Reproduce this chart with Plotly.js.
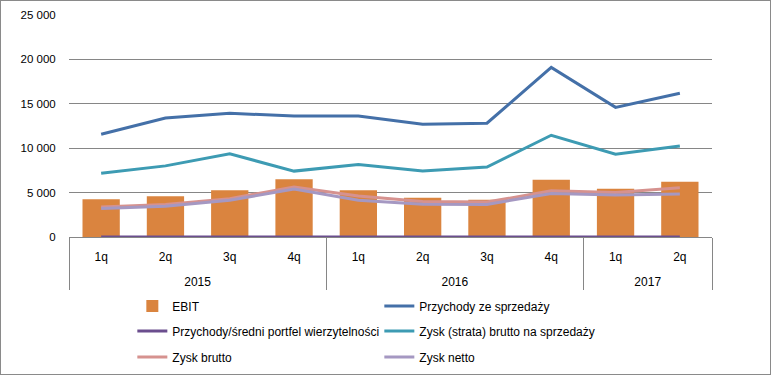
<!DOCTYPE html>
<html>
<head>
<meta charset="utf-8">
<script src="https://cdn.plot.ly/plotly-3.0.1.min.js"></script>
<style>
  html, body { margin: 0; padding: 0; background: #fff; }
  #wrap { position: relative; width: 771px; height: 375px; }
  #chart { position: absolute; left: 0; top: 0; width: 771px; height: 375px; }
  #frame { position: absolute; left: 0; top: 0; width: 771px; height: 375px; box-sizing: border-box; border: 1px solid #8a8a8a; pointer-events: none; }
</style>
</head>
<body>
<div id="wrap"><div id="chart"></div><div id="frame"></div></div>
<script>
const years = ["2015","2015","2015","2015","2016","2016","2016","2016","2017","2017"];
const quarters = ["1q","2q","3q","4q","1q","2q","3q","4q","1q","2q"];

const ebit = [4245, 4580, 5260, 6500, 5260, 4420, 4200, 6450, 5440, 6230];
const przychody = [11570, 13400, 13930, 13630, 13630, 12700, 12810, 19100, 14600, 16180];
const przychodyPortfel = [0.3, 0.3, 0.3, 0.3, 0.3, 0.3, 0.3, 0.3, 0.3, 0.3];
const zyskSprzedazy = [7190, 8010, 9360, 7420, 8160, 7420, 7870, 11460, 9330, 10260];
const zyskBrutto = [3380, 3650, 4320, 5630, 4620, 4000, 3930, 5200, 5000, 5560];
const zyskNetto = [3200, 3460, 4130, 5400, 4130, 3700, 3670, 4900, 4730, 4840];

const yTicks = [0, 5000, 10000, 15000, 20000, 25000];

// padding spans only enlarge the label box so the year row sits lower
const pad = "<span style='font-size:29px'>\u00a0</span>";
const quarterLabels = quarters.map(q => pad + q + pad);
const x = [years, quarterLabels];
const lw = 3;

const traces = [
  { type: "bar", name: "EBIT", x: x, y: ebit, marker: { color: "#da843f" }, legend: "legend" },
  { type: "scatter", mode: "lines", name: "Przychody ze sprzedaży", x: x, y: przychody, line: { color: "#4470a8", width: lw }, legend: "legend" },
  { type: "scatter", mode: "lines", name: "Przychody/średni portfel wierzytelności", x: x, y: przychodyPortfel, line: { color: "#6b4e8e", width: lw }, legend: "legend2" },
  { type: "scatter", mode: "lines", name: "Zysk (strata) brutto na sprzedaży", x: x, y: zyskSprzedazy, line: { color: "#3d9bb3", width: lw }, legend: "legend2" },
  { type: "scatter", mode: "lines", name: "Zysk brutto", x: x, y: zyskBrutto, line: { color: "#d6928f", width: lw }, legend: "legend3" },
  { type: "scatter", mode: "lines", name: "Zysk netto", x: x, y: zyskNetto, line: { color: "#a598c2", width: lw }, legend: "legend3" }
];

const font = { family: "Liberation Sans, Arial, sans-serif", size: 12, color: "#000" };

function legendAt(yPix) {
  return {
    orientation: "h",
    xref: "paper", x: 0.0985, xanchor: "left",
    yref: "container", y: 1 - yPix / 375, yanchor: "middle",
    entrywidth: 202, entrywidthmode: "pixels",
    traceorder: "normal",
    font: font,
    bgcolor: "rgba(0,0,0,0)",
    itemwidth: 30
  };
}

const layout = {
  width: 771, height: 375,
  margin: { l: 69, r: 59, t: 15, b: 138, autoexpand: false },
  paper_bgcolor: "#fff", plot_bgcolor: "#fff",
  font: font,
  separators: ", ",
  bargap: 0.42,
  showlegend: true,
  legend: legendAt(306),
  legend2: legendAt(331),
  legend3: legendAt(357),
  xaxis: {
    type: "multicategory",
    range: [-0.5, 9.5],
    showgrid: false,
    showline: true, linecolor: "#868686", linewidth: 1,
    showdividers: true, dividercolor: "#868686", dividerwidth: 1,
    ticks: "outside", ticklen: 9, tickcolor: "rgba(0,0,0,0)",
    ticklabelstandoff: 9,
    tickfont: font
  },
  yaxis: {
    range: [0, 25000],
    tickvals: yTicks,
    tickformat: ",d",
    separatethousands: true,
    showgrid: true, gridcolor: "#868686", gridwidth: 1,
    zeroline: false, showline: false,
    ticks: "outside", ticklen: 10, tickcolor: "rgba(0,0,0,0)",
    tickfont: { family: font.family, size: 11.5, color: "#000" }
  }
};

Plotly.newPlot("chart", traces, layout, { displayModeBar: false, staticPlot: true });
</script>
</body>
</html>
